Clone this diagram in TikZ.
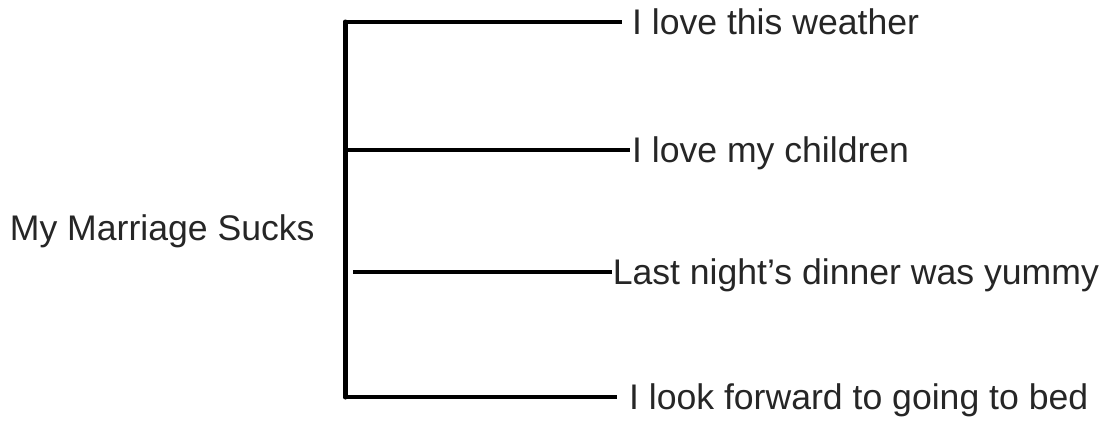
\documentclass[tikz,border=0pt]{standalone}
\usepackage{fontspec}
\setmainfont{Liberation Sans}
\usetikzlibrary{positioning}
\tikzstyle{leaf} = [anchor=west, inner ysep=0pt, text=black!85,
    text height=12.8pt, text depth=0pt]
\tikzstyle{spine} = [line width=2.5pt, line cap=round]
\tikzstyle{branch} = [line width=2pt]

\begin{document}
\begin{tikzpicture}[x=0.5pt,y=-0.5pt,font=\fontsize{17.8pt}{21pt}\selectfont]
  \useasboundingbox (0,0) rectangle (1113,423);

  \node[leaf, inner xsep=0pt] (root) at (9.5,227.5) {My Marriage Sucks};

  \coordinate (top) at (345,22);
  \coordinate (mid) at (345,150);
  \coordinate (low) at (353,272);
  \coordinate (bot) at (345,397);

  \node[leaf, inner xsep=4.85pt] (1) at (622,22)  {I love this weather};
  \node[leaf, inner xsep=0.85pt] (2) at (630,150) {I love my children};
  \node[leaf, inner xsep=0.2pt]  (3) at (612,272) {Last night’s dinner was yummy};
  \node[leaf, inner xsep=5.85pt] (4) at (617,397) {I look forward to going to bed};

  \draw[spine] (top) -- (bot);
  \path[branch] (top) edge (1.west)
  (mid) edge (2.west)
  (low) edge (3.west)
  (bot) edge (4.west);
\end{tikzpicture}
\end{document}
